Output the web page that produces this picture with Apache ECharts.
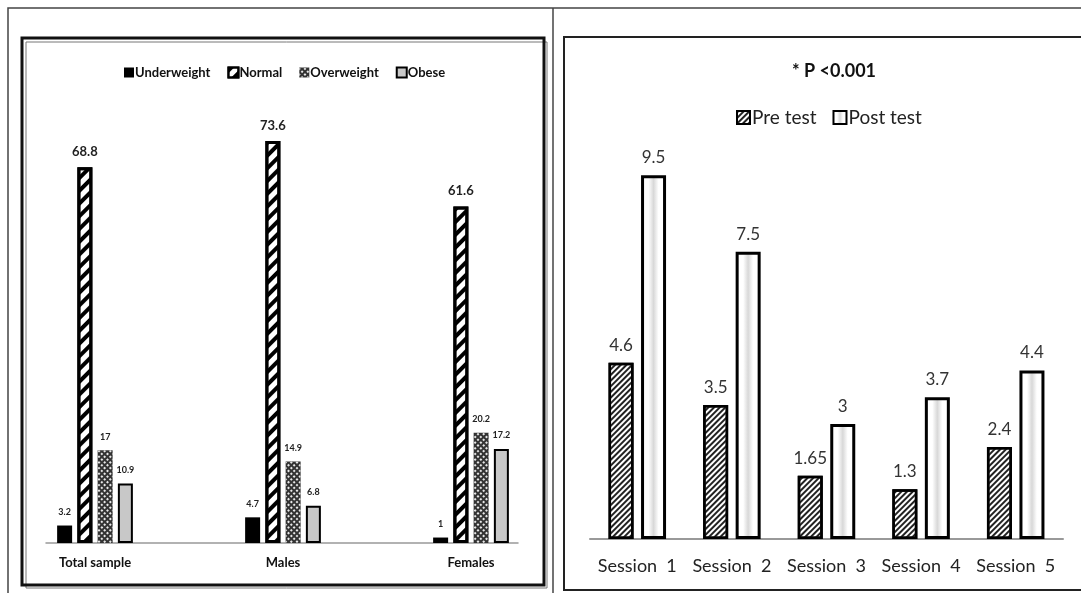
<!DOCTYPE html>
<html>
<head>
<meta charset="utf-8">
<script src="https://cdn.jsdelivr.net/npm/echarts@6/dist/echarts.min.js"></script>
<style>
  html, body { margin: 0; padding: 0; background: #fff; }
  #chart { width: 1081px; height: 593px; }
</style>
</head>
<body>
<div id="chart"></div>
<script>
// left panel: BMI groups
const groups = ['Total sample', 'Males', 'Females']
const underweight = [3.2, 4.7, 1]
const normal = [68.8, 73.6, 61.6]
const overweight = [17, 14.9, 20.2]
const obese = [10.9, 6.8, 17.2]

// right panel: sessions
const sessions = ['Session 1', 'Session 2', 'Session 3', 'Session 4', 'Session 5']
const preTest = [4.6, 3.5, 1.65, 1.3, 2.4]
const postTest = [9.5, 7.5, 3, 3.7, 4.4]

const font = 'Lato, "Open Sans", sans-serif'

const smallLabel = {
  show: true,
  position: 'top',
  distance: 9,
  fontFamily: font,
  fontWeight: 'bold',
  fontSize: 9,
  color: '#222'
}

const leftBar = (name, data, itemStyle, label) => ({
  name,
  type: 'bar',
  xAxisIndex: 0,
  yAxisIndex: 0,
  data,
  barWidth: 15,
  barGap: '35%',
  clip: false,
  itemStyle,
  label: Object.assign({}, smallLabel, label || {})
})

const rightLabel = {
  show: true,
  position: 'top',
  distance: 9,
  fontFamily: font,
  fontSize: 17,
  color: '#333'
}

const chart = echarts.init(document.getElementById('chart'))

chart.setOption({
  animation: false,
  graphic: [
    // outer frame + divider
    { type: 'rect', shape: { x: 8, y: 8, width: 1090, height: 600 }, style: { fill: 'none', stroke: '#444', lineWidth: 1.5 }, silent: true },
    { type: 'line', shape: { x1: 553, y1: 8, x2: 553, y2: 593 }, style: { stroke: '#444', lineWidth: 1.5 }, silent: true },
    // left box
    { type: 'rect', shape: { x: 22, y: 38, width: 522, height: 547 }, style: { fill: 'none', stroke: '#111', lineWidth: 3 }, silent: true },
    { type: 'rect', shape: { x: 26, y: 42, width: 521, height: 546 }, style: { fill: 'none', stroke: '#777', lineWidth: 1 }, silent: true, z: -1 },
    // right box
    { type: 'rect', shape: { x: 564, y: 37, width: 540, height: 553 }, style: { fill: 'none', stroke: '#222', lineWidth: 2 }, silent: true }
  ],
  title: {
    text: '* P <0.001',
    left: 829,
    textAlign: 'center',
    top: 57,
    textStyle: { fontFamily: font, fontSize: 18, fontWeight: 'bold', color: '#111' }
  },
  legend: [
    {
      data: ['Underweight', 'Normal', 'Overweight', 'Obese'],
      left: 119,
      top: 61,
      icon: 'rect',
      itemWidth: 10,
      itemHeight: 10,
      itemGap: 17,
      textStyle: { fontFamily: font, fontSize: 13, fontWeight: 'bold', color: '#111', padding: [0, 0, 0, -4] }
    },
    {
      data: ['Pre test', 'Post test'],
      left: 731,
      top: 103,
      icon: 'rect',
      itemWidth: 13,
      itemHeight: 13,
      itemGap: 16,
      textStyle: { fontFamily: font, fontSize: 19, color: '#222', padding: [0, 0, 0, -3] }
    }
  ],
  grid: [
    { left: 95, right: 610, top: 106, bottom: 50 },
    { left: 46, right: 563, top: 106, bottom: 50 },
    { left: 590, right: 18, top: 156, bottom: 54 }
  ],
  xAxis: [
    {
      gridIndex: 0,
      type: 'category',
      data: groups,
      boundaryGap: false,
      axisLine: { show: false },
      axisTick: { show: false },
      axisLabel: { margin: 13, fontFamily: font, fontSize: 13, fontWeight: 'bold', color: '#111' }
    },
    {
      gridIndex: 1,
      type: 'value',
      min: 0,
      max: 1,
      axisLine: { show: true, lineStyle: { color: '#999', width: 1.5 } },
      axisTick: { show: false },
      axisLabel: { show: false },
      splitLine: { show: false }
    },
    {
      gridIndex: 2,
      type: 'category',
      data: sessions,
      axisLine: { lineStyle: { color: '#999', width: 2 } },
      axisTick: { show: false },
      axisLabel: {
        interval: 0,
        hideOverlap: false,
        margin: 18,
        fontFamily: font,
        fontSize: 18,
        color: '#222',
        formatter: v => v.replace(' ', '  ')
      }
    }
  ],
  yAxis: [
    { gridIndex: 0, type: 'value', min: 0, max: 80, show: false },
    { gridIndex: 1, type: 'value', min: 0, max: 1, show: false },
    { gridIndex: 2, type: 'value', min: 0, max: 10, show: false }
  ],
  series: [
    leftBar('Underweight', underweight, { color: '#000' }),
    leftBar('Normal', normal, {
      color: '#fff',
      borderColor: '#000',
      borderWidth: 3,
      decal: { symbol: 'rect', dashArrayX: [1, 0], dashArrayY: [4, 5], rotation: -Math.PI / 4, color: '#000' }
    }, { fontSize: 13 }),
    leftBar('Overweight', overweight, {
      color: '#333',
      decal: { symbol: 'rect', symbolSize: 1, dashArrayX: [2, 1.2], dashArrayY: [2, 1.2], rotation: Math.PI / 4, color: '#e8e8e8' }
    }),
    leftBar('Obese', obese, { color: '#c8c8c8', borderColor: '#000', borderWidth: 2 }),
    {
      name: 'Pre test',
      type: 'bar',
      xAxisIndex: 2,
      yAxisIndex: 2,
      data: preTest,
      barWidth: 25,
      barGap: '30%',
      itemStyle: {
        color: '#fff',
        borderColor: '#000',
        borderWidth: 2.5,
        decal: { symbol: 'rect', dashArrayX: [1, 0], dashArrayY: [1.6, 2], rotation: -Math.PI / 4, color: '#222' }
      },
      label: rightLabel
    },
    {
      name: 'Post test',
      type: 'bar',
      xAxisIndex: 2,
      yAxisIndex: 2,
      data: postTest,
      barWidth: 25,
      barGap: '30%',
      itemStyle: {
        color: new echarts.graphic.LinearGradient(0, 0, 1, 0, [
          { offset: 0, color: '#fff' },
          { offset: 0.3, color: '#fff' },
          { offset: 0.5, color: '#d8d8d8' },
          { offset: 0.7, color: '#fff' },
          { offset: 1, color: '#fff' }
        ]),
        borderColor: '#000',
        borderWidth: 3
      },
      label: rightLabel
    }
  ]
})
</script>
</body>
</html>
